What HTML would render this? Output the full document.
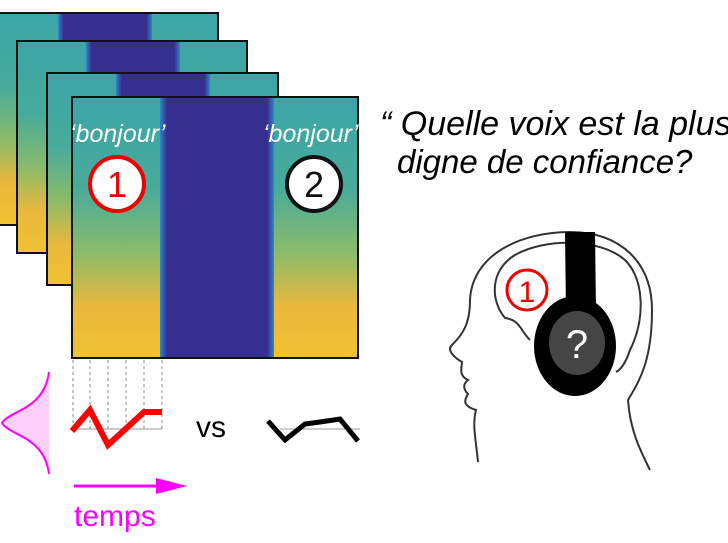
<!DOCTYPE html>
<html><head><meta charset="utf-8"><style>
html,body{margin:0;padding:0;background:#fff;}
svg{display:block}
</style></head><body>
<svg width="728" height="543" viewBox="0 0 728 543" xmlns="http://www.w3.org/2000/svg" font-family="Liberation Sans, sans-serif">
<defs>
<linearGradient id="sp" x1="0" y1="0" x2="0" y2="1">
<stop offset="0" stop-color="#3aa6a8"/>
<stop offset="0.35" stop-color="#48ab9a"/>
<stop offset="0.6" stop-color="#8cbb6a"/>
<stop offset="0.8" stop-color="#e8b83c"/>
<stop offset="1" stop-color="#f2c232"/>
</linearGradient>
<linearGradient id="bandedge" x1="0" y1="0" x2="1" y2="0">
<stop offset="0" stop-color="#2f86c8"/>
<stop offset="0.06" stop-color="#35308f"/>
<stop offset="0.94" stop-color="#35308f"/>
<stop offset="1" stop-color="#2f86c8"/>
</linearGradient>
</defs>
<rect x="-10" y="13" width="228" height="212" fill="url(#sp)" stroke="#111" stroke-width="2"/>
<rect x="58" y="14" width="94" height="210" fill="url(#bandedge)"/>
<rect x="17" y="41" width="230" height="212" fill="url(#sp)" stroke="#111" stroke-width="2"/>
<rect x="86" y="42" width="94" height="210" fill="url(#bandedge)"/>
<rect x="47" y="73" width="231" height="212" fill="url(#sp)" stroke="#111" stroke-width="2"/>
<rect x="116" y="74" width="94" height="210" fill="url(#bandedge)"/>
<rect x="72" y="97" width="286" height="261" fill="url(#sp)" stroke="#111" stroke-width="2"/>
<rect x="160" y="98" width="114" height="259" fill="url(#bandedge)"/>
<text x="70" y="142" font-size="25" font-style="italic" fill="#fff">‘bonjour’</text>
<text x="263" y="142" font-size="25" font-style="italic" fill="#fff">‘bonjour’</text>
<rect x="359" y="96" width="12" height="50" fill="#fff"/>
<circle cx="117" cy="184" r="27" fill="#fff" stroke="#e00" stroke-width="4"/>
<text x="117" y="197" font-size="36" text-anchor="middle" fill="#e00">1</text>
<circle cx="314" cy="184" r="27" fill="#fff" stroke="#111" stroke-width="4"/>
<text x="314" y="197" font-size="36" text-anchor="middle" fill="#111">2</text>
<g stroke="#888" stroke-width="1" stroke-dasharray="3,3">
<line x1="73" y1="360" x2="73" y2="430"/><line x1="90" y1="360" x2="90" y2="430"/>
<line x1="108" y1="360" x2="108" y2="430"/><line x1="126" y1="360" x2="126" y2="430"/>
<line x1="144" y1="360" x2="144" y2="430"/><line x1="162" y1="360" x2="162" y2="430"/>
</g>
<line x1="72" y1="429" x2="162" y2="429" stroke="#999" stroke-width="1"/>
<polyline points="72,431 90,410 108,445 144,412 162,412" fill="none" stroke="#f00" stroke-width="6"/>
<line x1="280" y1="429" x2="360" y2="429" stroke="#999" stroke-width="1"/>
<polyline points="268,421 285,440 305,424 320,422 340,419 358,441" fill="none" stroke="#000" stroke-width="5"/>
<text x="196" y="437" font-size="30" fill="#000">vs</text>
<path d="M49,372 C44,410 10,410 2,423 C10,436 44,436 49,474 Z" fill="#fcd0f8"/>
<path d="M49,372 C44,410 10,410 2,423 C10,436 44,436 49,474" fill="none" stroke="#f0f" stroke-width="2"/>
<line x1="74" y1="486" x2="160" y2="486" stroke="#f0f" stroke-width="3"/>
<polygon points="156,478 187,486 156,494" fill="#f0f"/>
<text x="74" y="526" font-size="30" fill="#f0f">temps</text>
<text x="380" y="135" font-size="34" font-style="italic" fill="#000">“ Quelle voix est la plus</text>
<text x="397" y="173" font-size="33" font-style="italic" fill="#000">digne de confiance?</text>
<path d="M478,462 C476,440 472,425 476,410 C460,405 466,398 468,394 C462,388 464,383 468,380 C458,375 462,368 462,362 C455,358 446,350 452,345 C462,335 470,325 470,300 C472,255 520,232 570,232 C620,232 652,262 652,310 C652,360 640,380 628,400 C630,430 640,450 650,470" fill="none" stroke="#333" stroke-width="2"/>
<path d="M530,340 C520,330 520,320 505,318 C490,300 490,270 515,255 C545,238 600,238 625,260 C645,280 645,320 630,350 C625,365 620,370 616,372" fill="none" stroke="#333" stroke-width="2"/>
<circle cx="527" cy="290" r="20" fill="none" stroke="#e00" stroke-width="3"/>
<text x="527" y="302" font-size="30" text-anchor="middle" fill="#e00">1</text>
<path d="M565,232 L595,232 L596,312 L566,312 Z" fill="#000"/>
<ellipse cx="575" cy="346" rx="41" ry="50" fill="#000"/>
<ellipse cx="577" cy="343" rx="28" ry="32" fill="#454545"/>
<text x="577" y="358" font-size="40" text-anchor="middle" fill="#fff">?</text>
</svg>
</body></html>
